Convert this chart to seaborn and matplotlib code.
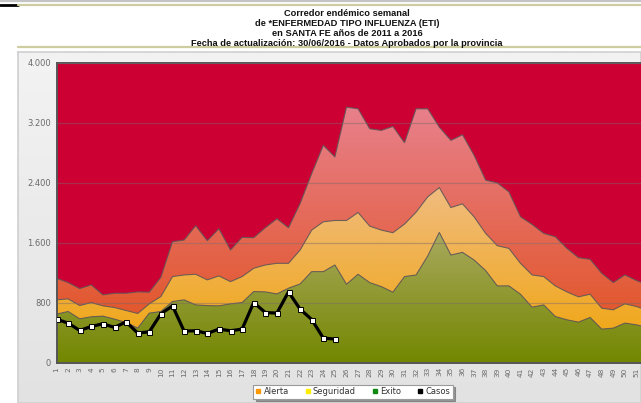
import numpy as np
import pandas as pd
import matplotlib
matplotlib.use("Agg")
import matplotlib.pyplot as plt
import seaborn as sns
from matplotlib.colors import LinearSegmentedColormap
from matplotlib.lines import Line2D

# ---------------- data ----------------
weeks = list(range(1, 53))
week_labels = [str(w) for w in weeks]
exito = [651, 687, 589, 616, 625, 585, 540, 465, 665, 687, 820, 842, 775, 766, 762, 789, 806, 952, 948, 921,
         997, 1054, 1218, 1218, 1307, 1050, 1183, 1072, 1019, 944, 1152, 1174, 1426, 1741, 1440, 1475, 1373,
         1232, 1028, 1028, 917, 744, 775, 620, 576, 545, 607, 452, 465, 532, 509, 470]
seguridad = [842, 855, 766, 806, 762, 740, 700, 660, 789, 886, 1152, 1174, 1183, 1108, 1161, 1085, 1152, 1263,
             1307, 1329, 1329, 1506, 1772, 1883, 1900, 1900, 2007, 1825, 1772, 1737, 1852, 2011, 2215, 2339,
             2073, 2122, 1949, 1728, 1564, 1528, 1329, 1174, 1152, 1028, 948, 882, 917, 731, 709, 789, 753, 700]
alerta = [1130, 1072, 992, 1041, 908, 930, 930, 948, 944, 1143, 1617, 1639, 1830, 1630, 1790, 1506, 1675, 1670,
          1803, 1923, 1803, 2126, 2525, 2902, 2747, 3411, 3389, 3123, 3101, 3154, 2937, 3389, 3389, 3145, 2968,
          3043, 2769, 2437, 2401, 2281, 1949, 1847, 1728, 1683, 1528, 1404, 1382, 1196, 1072, 1174, 1099, 1040]
casos_weeks = list(range(1, 26))
casos = [585, 532, 434, 487, 523, 474, 549, 399, 416, 656, 762, 425, 430, 394, 452, 430, 452, 806, 673, 665,
         948, 718, 580, 332, 319]
y_ticks = [0, 800, 1600, 2400, 3200, 4000]
y_labels = ["0", "800", "1.600", "2.400", "3.200", "4.000"]
titles = ["Corredor endémico semanal",
          "de *ENFERMEDAD TIPO INFLUENZA (ETI)",
          "en SANTA FE años de 2011 a 2016",
          "Fecha de actualización: 30/06/2016 - Datos Aprobados por la provincia"]
legend_names = ["Alerta", "Seguridad", "Exito", "Casos"]
legend_colors = ["#ff9900", "#ffee00", "#118811", "#000000"]

sns.set_style("white")
plt.rcParams['font.family'] = ['DejaVu Sans']

W, H = 641, 403
fig = plt.figure(figsize=(W / 100, H / 100), dpi=100)
fig.patch.set_facecolor("white")


def fx(px):
    return px / W


def fy(py):
    return 1 - py / H


# page decorations
fig.add_artist(Line2D([0, 1], [fy(0.8), fy(0.8)], transform=fig.transFigure, color="#c4c4c4", lw=1.6))
fig.add_artist(Line2D([0, fx(18)], [fy(5), fy(5)], transform=fig.transFigure, color="#000000", lw=2))
fig.add_artist(Line2D([fx(18), 1], [fy(5), fy(5)], transform=fig.transFigure, color="#cdcda0", lw=1.6))
fig.add_artist(Line2D([fx(18), 1], [fy(47), fy(47)], transform=fig.transFigure, color="#cdcda0", lw=1.6))

for i, t in enumerate(titles):
    fig.text(fx(347), fy(13 + 10.2 * i), t, ha="center", va="center", fontsize=6.7,
             fontweight="bold", color="#111111",
             family=["Liberation Sans Narrow", "Liberation Sans", "DejaVu Sans"])

# panel background
pax = fig.add_axes([fx(18), 0, 1 - fx(18), fy(52)], zorder=-5)
pgrad = np.linspace(0, 1, 256).reshape(-1, 1)
pcmap = LinearSegmentedColormap.from_list("p", ["#e2e2e2", "#f3f3f3"])
pax.imshow(pgrad, origin="lower", aspect="auto", cmap=pcmap, extent=[0, 1, 0, 1])
pax.set_xlim(0, 1)
pax.set_ylim(0, 1)
pax.set_xticks([])
pax.set_yticks([])
for s in pax.spines.values():
    s.set_color("#cfcfcf")
    s.set_linewidth(1.2)

# main axes
x0, x1 = 56.5, 641
ax = fig.add_axes([fx(x0), fy(363), (x1 - x0) / W, 300 / H])
ax.set_facecolor("#cc0033")

xs = np.array(weeks, dtype=float)


def grad_fill(lo, hi, c_top, c_bot, z):
    lo = np.asarray(lo, dtype=float)
    hi = np.asarray(hi, dtype=float)
    poly = ax.fill_between(xs, lo, hi, facecolor="none", edgecolor="none", zorder=z)
    ymin, ymax = lo.min(), hi.max()
    cmap = LinearSegmentedColormap.from_list("g", [c_bot, c_top])
    im = ax.imshow(np.linspace(0, 1, 256).reshape(-1, 1), origin="lower", aspect="auto", cmap=cmap,
                   extent=[xs[0], xs[-1], ymin, ymax], zorder=z, interpolation="bilinear")
    im.set_clip_path(poly.get_paths()[0], ax.transData)
    ax.plot(xs, hi, color="#5a5a5a", lw=0.8, alpha=0.85, zorder=z + 0.1)


grad_fill(seguridad, alerta, "#e8808c", "#e2582e", 1.0)
grad_fill(exito, seguridad, "#f0bc80", "#f0a81c", 1.2)
grad_fill(np.zeros(len(exito)), exito, "#a9a95e", "#738700", 1.4)

ax.set_axisbelow(False)
ax.grid(axis="y", color="#7a6a6a", alpha=0.45, lw=0.9, zorder=2)
ax.grid(axis="x", visible=False)

df = pd.DataFrame({"semana": casos_weeks, "casos": casos})
sns.lineplot(data=df, x="semana", y="casos", ax=ax, color="black", lw=2.3, marker="s", markersize=3.6,
             markerfacecolor="white", markeredgecolor="black", markeredgewidth=0.7, zorder=5, legend=False)

ax.set_xlim(1, 1 + (x1 - x0) / 11.6)
ax.set_ylim(0, 4000)
ax.set_xlabel("")
ax.set_ylabel("")
ax.set_yticks(y_ticks)
ax.set_yticklabels(y_labels)
ax.set_xticks(weeks[:51])
ax.set_xticklabels(week_labels[:51], rotation=90)
ax.tick_params(axis="y", length=0, pad=4, labelsize=6, labelcolor="#6a6a6a")
ax.tick_params(axis="x", length=0, pad=3, labelsize=5.3, labelcolor="#6a6a6a")
for k in ["left", "bottom", "top"]:
    ax.spines[k].set_visible(True)
    ax.spines[k].set_color("#555555")
    ax.spines[k].set_linewidth(1.4)
ax.spines["right"].set_visible(False)

handles = [Line2D([], [], lw=0, marker="s", markersize=3, color=c, markeredgecolor=c) for c in legend_colors]
leg = fig.legend(handles, legend_names, loc="center", bbox_to_anchor=(fx(353), fy(391.5)), ncol=4,
                 fontsize=6, frameon=True, fancybox=False, shadow=True, handlelength=0.6,
                 handletextpad=0.3, columnspacing=2.0, borderpad=0.3, labelcolor="#333333")
leg.get_frame().set_edgecolor("#9a9a9a")
leg.get_frame().set_linewidth(0.8)

fig.savefig("out.png", dpi=100)
